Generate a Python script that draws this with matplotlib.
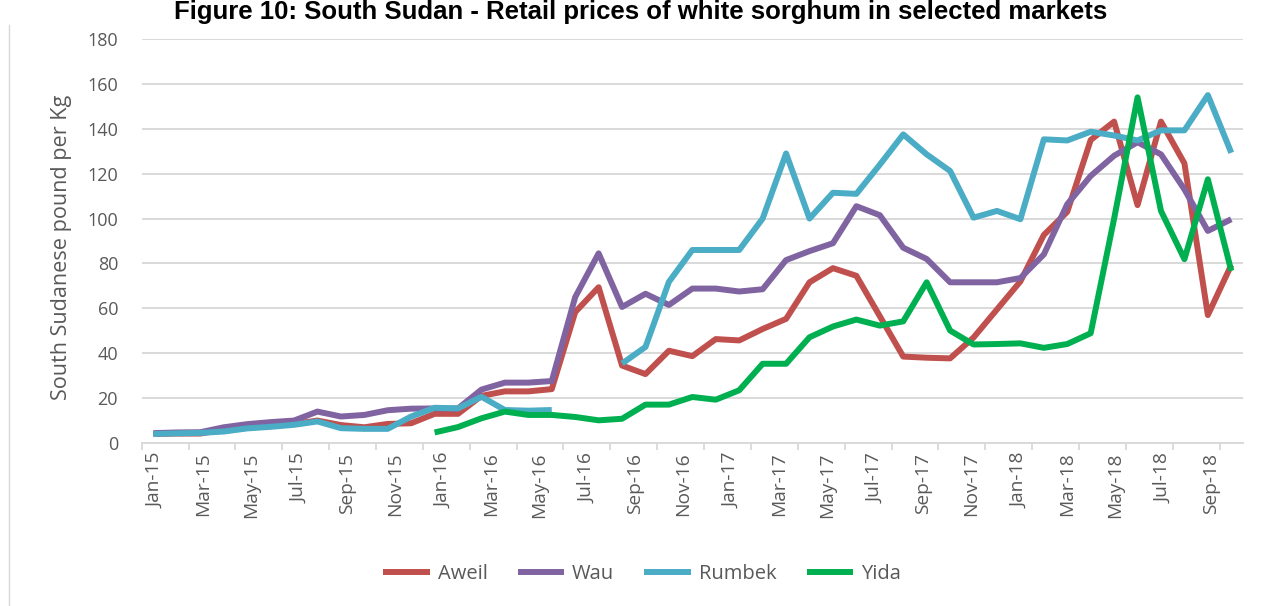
import matplotlib
matplotlib.use("Agg")
import matplotlib.pyplot as plt
import numpy as np
from matplotlib.lines import Line2D

nan = np.nan

# ---- data -------------------------------------------------------------
month_names = ["Jan", "Feb", "Mar", "Apr", "May", "Jun",
               "Jul", "Aug", "Sep", "Oct", "Nov", "Dec"]
months = [f"{m}-{y}" for y in range(15, 19) for m in month_names][:47]  # Jan-15 .. Nov-18

tick_labels = months[0:45:2]  # Jan-15 .. Sep-18

aweil = [4, 4.2, 4.2, 6, 8, 8.3, 8.5, 10, 8, 7, 8.5, 8.8, 13, 13, 21, 23, 23, 24,
         58.3, 69.4, 34.5, 30.7, 41.1, 38.7, 46.3, 45.7, 50.8, 55.3, 71.6, 77.9,
         74.5, 56.5, 38.5, 38, 37.7, 47, 59.5, 72, 92.7, 103, 135, 143.2, 106,
         143.2, 124.6, 57, 79.3]
wau = [4.4, 4.7, 4.8, 7, 8.4, 9.3, 10, 14, 11.8, 12.5, 14.6, 15.3, 15.4, 15.4,
       23.8, 26.9, 26.9, 27.6, 65, 84.5, 60.6, 66.5, 61.5, 68.8, 68.8, 67.5,
       68.5, 81.5, 85.5, 89, 105.5, 101.5, 87, 82, 71.6, 71.6, 71.6, 73.5, 84,
       106.4, 119, 128, 134, 128.6, 113, 94.5, 99.7]
rumbek = [4, 4.3, 4.5, 5.1, 6.5, 7.2, 8.1, 9.6, 6.6, 6.3, 6.3, 11.8, 15.7, 15.4,
          20.6, 14.7, 14.4, 14.7, nan, nan, 35.4, 42.8, 71.8, 86, 86, 86, 100,
          129, 100, 111.5, 111, 124, 137.5, 128.6, 121.2, 100.4, 103.4, 99.7,
          135.3, 134.8, 138.7, 137, 134.8, 139.3, 139.3, 155, 129.3]
yida = [nan] * 12 + [4.7, 7.1, 11, 14, 12.5, 12.5, 11.6, 10.1, 10.8, 17.1, 17.1,
                     20.5, 19.3, 23.5, 35.3, 35.3, 47.1, 51.9, 55, 52.3, 54.2,
                     71.6, 50.1, 43.9, 44.1, 44.4, 42.4, 44.1, 48.9, 100, 154,
                     103.4, 81.9, 117.5, 76.7]

series = [("Aweil", aweil, "#c0504d"),
          ("Wau", wau, "#8064a2"),
          ("Rumbek", rumbek, "#4bacc6"),
          ("Yida", yida, "#00b050")]

# ---- figure -----------------------------------------------------------
W, H = 1261, 606
fig = plt.figure(figsize=(W / 100, H / 100), dpi=100)
fig.patch.set_facecolor("white")

FONT = ["Open Sans", "DejaVu Sans"]
TXT = "#595959"
GRID = "#d9d9d9"

left, right, bottom, top = 141.7, 1243, 443, 39
ax = fig.add_axes([left / W, (H - bottom) / H, (right - left) / W, (bottom - top) / H])

x = np.arange(len(months))
for name, vals, col in series:
    ax.plot(x, vals, color=col, lw=4.3, label=name,
            solid_joinstyle="round", solid_capstyle="butt")

ax.set_xlim(-0.5, len(months) - 0.5)
ax.set_ylim(0, 180)

# y axis
ax.set_yticks(range(0, 181, 20))
ax.yaxis.grid(True, color=GRID, lw=1.4)
ax.set_axisbelow(True)
ax.tick_params(axis="y", length=0, pad=17, labelsize=13, labelcolor=TXT)
for t in ax.get_yticklabels():
    t.set_family(FONT)

# x axis: labels + boundary tick marks
label_step = 2.049
ax.set_xticks(np.arange(len(tick_labels)) * label_step + 0.07)
ax.set_xticklabels(tick_labels, rotation=90, family=FONT, fontsize=13.8, color=TXT)
ax.tick_params(axis="x", which="major", length=0, pad=7)
ax.set_xticks(np.arange(-0.5, len(months), 2), minor=True)
ax.tick_params(axis="x", which="minor", length=5, width=1.3, color=GRID)

for s in ["top", "right", "left"]:
    ax.spines[s].set_visible(False)
ax.spines["bottom"].set_color(GRID)
ax.spines["bottom"].set_linewidth(1.4)

ax.set_ylabel("South Sudanese pound per Kg", family=FONT, fontsize=15.6, color=TXT)
ax.yaxis.set_label_coords((72 - left) / (right - left), 0.484)

# legend
handles, labels = ax.get_legend_handles_labels()
leg = fig.legend(handles, labels, loc="center", ncol=4,
                 bbox_to_anchor=(642 / W, 1 - 574 / H), frameon=False,
                 prop={"family": FONT, "size": 14.5}, handlelength=2.3,
                 handletextpad=0.4, columnspacing=1.5)
for t in leg.get_texts():
    t.set_color(TXT)

# title
fig.text(641 / W, 1 - 19 / H,
         "Figure 10: South Sudan - Retail prices of white sorghum in selected markets",
         ha="center", va="baseline", fontsize=18.5, fontweight="bold",
         family=["Liberation Sans", "DejaVu Sans"], color="#000000")

# left frame edge
fig.add_artist(Line2D([8.5 / W, 8.5 / W], [0, 1 - 25 / H], transform=fig.transFigure,
                      color=GRID, lw=1))

fig.savefig("out.png", dpi=100)
